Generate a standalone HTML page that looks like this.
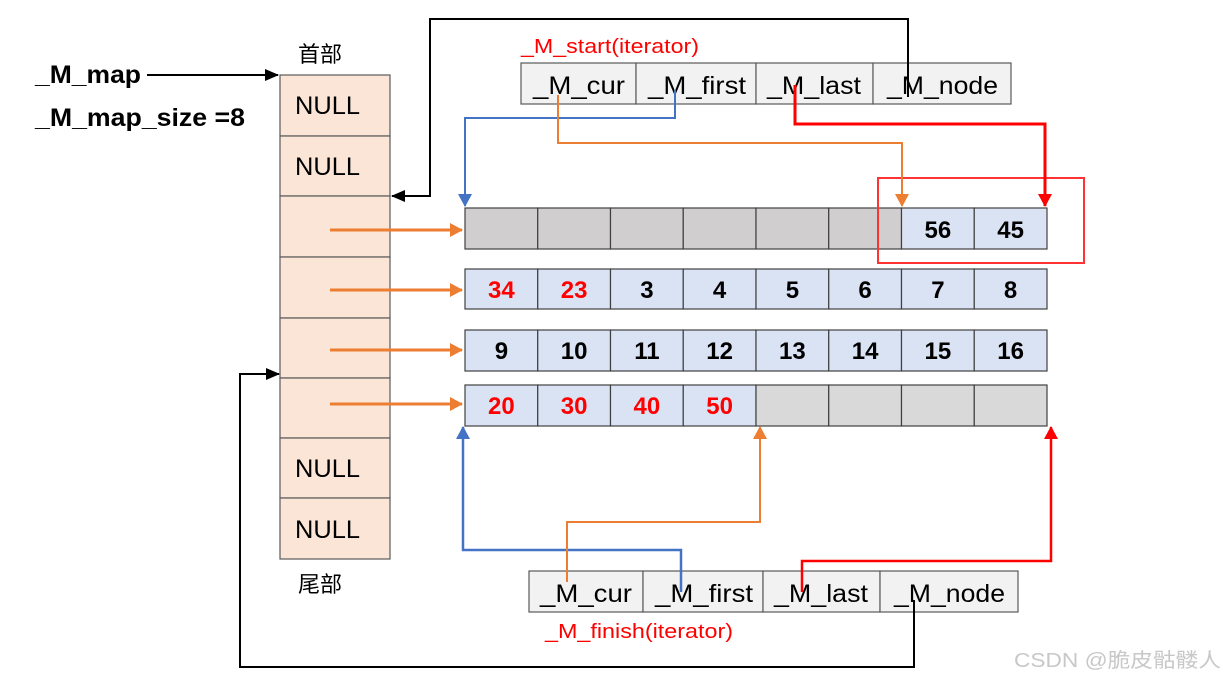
<!DOCTYPE html>
<html><head><meta charset="utf-8"><style>
html,body{margin:0;padding:0;background:#fff;}
svg{display:block;}
text{font-family:"Liberation Sans","Noto Sans CJK SC",sans-serif;}
</style></head><body>
<svg width="1225" height="679" viewBox="0 0 1225 679" xmlns="http://www.w3.org/2000/svg">
<defs>
<marker id="ak" markerWidth="14" markerHeight="12" refX="13" refY="6" orient="auto" markerUnits="userSpaceOnUse"><path d="M0,0 L14,6 L0,12 z" fill="#000"/></marker>
<marker id="ao" markerWidth="13" markerHeight="14" refX="12" refY="7" orient="auto" markerUnits="userSpaceOnUse"><path d="M0,0 L13,7 L0,14 z" fill="#ed7d31"/></marker>
<marker id="ab" markerWidth="13" markerHeight="14" refX="12" refY="7" orient="auto" markerUnits="userSpaceOnUse"><path d="M0,0 L13,7 L0,14 z" fill="#4472c4"/></marker>
<marker id="ar" markerWidth="13" markerHeight="14" refX="12" refY="7" orient="auto" markerUnits="userSpaceOnUse"><path d="M0,0 L13,7 L0,14 z" fill="#ff0000"/></marker>
</defs>

<text x="35" y="83" font-size="25" font-weight="bold" textLength="106" lengthAdjust="spacingAndGlyphs">_M_map</text>
<text x="35" y="126" font-size="25" font-weight="bold" textLength="210" lengthAdjust="spacingAndGlyphs">_M_map_size =8</text>
<line x1="147" y1="75" x2="278" y2="75" stroke="#000" stroke-width="2" marker-end="url(#ak)"/>
<text x="298" y="62" font-size="22">首部</text>
<text x="298" y="592" font-size="22">尾部</text>

<g stroke="#595959" stroke-width="1.2" fill="#fbe5d6">
<rect x="280" y="75" width="110" height="61"/>
<rect x="280" y="136" width="110" height="60"/>
<rect x="280" y="196" width="110" height="61"/>
<rect x="280" y="257" width="110" height="61"/>
<rect x="280" y="318" width="110" height="60"/>
<rect x="280" y="378" width="110" height="60"/>
<rect x="280" y="438" width="110" height="60"/>
<rect x="280" y="498" width="110" height="61"/>
</g>
<g font-size="25" fill="#000">
<text x="295" y="114" textLength="65" lengthAdjust="spacingAndGlyphs">NULL</text>
<text x="295" y="175" textLength="65" lengthAdjust="spacingAndGlyphs">NULL</text>
<text x="295" y="477" textLength="65" lengthAdjust="spacingAndGlyphs">NULL</text>
<text x="295" y="538" textLength="65" lengthAdjust="spacingAndGlyphs">NULL</text>
</g>
<g stroke="#ed7d31" stroke-width="3">
<line x1="330" y1="230" x2="462" y2="230" marker-end="url(#ao)"/>
<line x1="330" y1="290" x2="462" y2="290" marker-end="url(#ao)"/>
<line x1="330" y1="350" x2="462" y2="350" marker-end="url(#ao)"/>
<line x1="330" y1="404" x2="462" y2="404" marker-end="url(#ao)"/>
</g>

<g stroke="#404040" stroke-width="1.2">
<rect x="465" y="208" width="72.75" height="41" fill="#d0cece"/>
<rect x="537.75" y="208" width="72.75" height="41" fill="#d0cece"/>
<rect x="610.5" y="208" width="72.75" height="41" fill="#d0cece"/>
<rect x="683.25" y="208" width="72.75" height="41" fill="#d0cece"/>
<rect x="756" y="208" width="72.75" height="41" fill="#d0cece"/>
<rect x="828.75" y="208" width="72.75" height="41" fill="#d0cece"/>
<rect x="901.5" y="208" width="72.75" height="41" fill="#dae3f3"/>
<rect x="974.25" y="208" width="72.75" height="41" fill="#dae3f3"/>
<rect x="465" y="269" width="72.75" height="40" fill="#dae3f3"/>
<rect x="537.75" y="269" width="72.75" height="40" fill="#dae3f3"/>
<rect x="610.5" y="269" width="72.75" height="40" fill="#dae3f3"/>
<rect x="683.25" y="269" width="72.75" height="40" fill="#dae3f3"/>
<rect x="756" y="269" width="72.75" height="40" fill="#dae3f3"/>
<rect x="828.75" y="269" width="72.75" height="40" fill="#dae3f3"/>
<rect x="901.5" y="269" width="72.75" height="40" fill="#dae3f3"/>
<rect x="974.25" y="269" width="72.75" height="40" fill="#dae3f3"/>
<rect x="465" y="330" width="72.75" height="41" fill="#dae3f3"/>
<rect x="537.75" y="330" width="72.75" height="41" fill="#dae3f3"/>
<rect x="610.5" y="330" width="72.75" height="41" fill="#dae3f3"/>
<rect x="683.25" y="330" width="72.75" height="41" fill="#dae3f3"/>
<rect x="756" y="330" width="72.75" height="41" fill="#dae3f3"/>
<rect x="828.75" y="330" width="72.75" height="41" fill="#dae3f3"/>
<rect x="901.5" y="330" width="72.75" height="41" fill="#dae3f3"/>
<rect x="974.25" y="330" width="72.75" height="41" fill="#dae3f3"/>
<rect x="465" y="385" width="72.75" height="41" fill="#dae3f3"/>
<rect x="537.75" y="385" width="72.75" height="41" fill="#dae3f3"/>
<rect x="610.5" y="385" width="72.75" height="41" fill="#dae3f3"/>
<rect x="683.25" y="385" width="72.75" height="41" fill="#dae3f3"/>
<rect x="756" y="385" width="72.75" height="41" fill="#d9d9d9"/>
<rect x="828.75" y="385" width="72.75" height="41" fill="#d9d9d9"/>
<rect x="901.5" y="385" width="72.75" height="41" fill="#d9d9d9"/>
<rect x="974.25" y="385" width="72.75" height="41" fill="#d9d9d9"/>
</g>
<g font-size="24" font-weight="bold" text-anchor="middle">
<text x="937.9" y="238">56</text><text x="1010.6" y="238">45</text>
<text x="501.4" y="298" fill="#ff0000">34</text><text x="574.1" y="298" fill="#ff0000">23</text>
<text x="646.9" y="298">3</text><text x="719.6" y="298">4</text><text x="792.4" y="298">5</text><text x="865.1" y="298">6</text><text x="937.9" y="298">7</text><text x="1010.6" y="298">8</text>
<text x="501.4" y="359">9</text><text x="574.1" y="359">10</text><text x="646.9" y="359">11</text><text x="719.6" y="359">12</text><text x="792.4" y="359">13</text><text x="865.1" y="359">14</text><text x="937.9" y="359">15</text><text x="1010.6" y="359">16</text>
<text x="501.4" y="414" fill="#ff0000">20</text><text x="574.1" y="414" fill="#ff0000">30</text><text x="646.9" y="414" fill="#ff0000">40</text><text x="719.6" y="414" fill="#ff0000">50</text>
</g>
<rect x="878" y="178" width="206" height="85" fill="none" stroke="#ff3333" stroke-width="2"/>

<text x="521" y="53" font-size="20" fill="#ff0000" textLength="178" lengthAdjust="spacingAndGlyphs">_M_start(iterator)</text>
<g stroke="#595959" stroke-width="1.2" fill="#f2f2f2">
<rect x="521" y="63" width="115" height="41"/>
<rect x="636" y="63" width="120" height="41"/>
<rect x="756" y="63" width="117" height="41"/>
<rect x="873" y="63" width="138" height="41"/>
</g>
<g font-size="25" fill="#000">
<text x="533" y="94" textLength="92" lengthAdjust="spacingAndGlyphs">_M_cur</text>
<text x="648" y="94" textLength="98" lengthAdjust="spacingAndGlyphs">_M_first</text>
<text x="767" y="94" textLength="94" lengthAdjust="spacingAndGlyphs">_M_last</text>
<text x="887" y="94" textLength="111" lengthAdjust="spacingAndGlyphs">_M_node</text>
</g>

<g stroke="#595959" stroke-width="1.2" fill="#f2f2f2">
<rect x="529" y="571" width="114" height="41"/>
<rect x="643" y="571" width="120" height="41"/>
<rect x="763" y="571" width="117" height="41"/>
<rect x="880" y="571" width="138" height="41"/>
</g>
<g font-size="25" fill="#000">
<text x="540" y="602" textLength="92" lengthAdjust="spacingAndGlyphs">_M_cur</text>
<text x="655" y="602" textLength="98" lengthAdjust="spacingAndGlyphs">_M_first</text>
<text x="774" y="602" textLength="94" lengthAdjust="spacingAndGlyphs">_M_last</text>
<text x="894" y="602" textLength="111" lengthAdjust="spacingAndGlyphs">_M_node</text>
</g>
<text x="545" y="638" font-size="20" fill="#ff0000" textLength="188" lengthAdjust="spacingAndGlyphs">_M_finish(iterator)</text>

<polyline points="908,97 908,19 430,19 430,196 392,196" fill="none" stroke="#000" stroke-width="2" marker-end="url(#ak)"/>
<polyline points="675,90 675,118 465,118 465,206" fill="none" stroke="#4472c4" stroke-width="2" marker-end="url(#ab)"/>
<polyline points="558,95 558,143 902,143 902,206" fill="none" stroke="#ed7d31" stroke-width="2" marker-end="url(#ao)"/>
<polyline points="795,85 795,124 1045,124 1045,206" fill="none" stroke="#ff0000" stroke-width="3" marker-end="url(#ar)"/>

<polyline points="681,592 681,550 463,550 463,427" fill="none" stroke="#4472c4" stroke-width="2.5" marker-end="url(#ab)"/>
<polyline points="567,582 567,522 760,522 760,427" fill="none" stroke="#ed7d31" stroke-width="2" marker-end="url(#ao)"/>
<polyline points="802,592 802,561 1051,561 1051,427" fill="none" stroke="#ff0000" stroke-width="2.5" marker-end="url(#ar)"/>
<polyline points="914,600 914,667 240,667 240,374 279,374" fill="none" stroke="#000" stroke-width="2" marker-end="url(#ak)"/>

<text x="1014" y="667" font-size="20" fill="#c8c8c8" textLength="207" lengthAdjust="spacingAndGlyphs">CSDN @脆皮骷髅人</text>
</svg>
</body></html>
